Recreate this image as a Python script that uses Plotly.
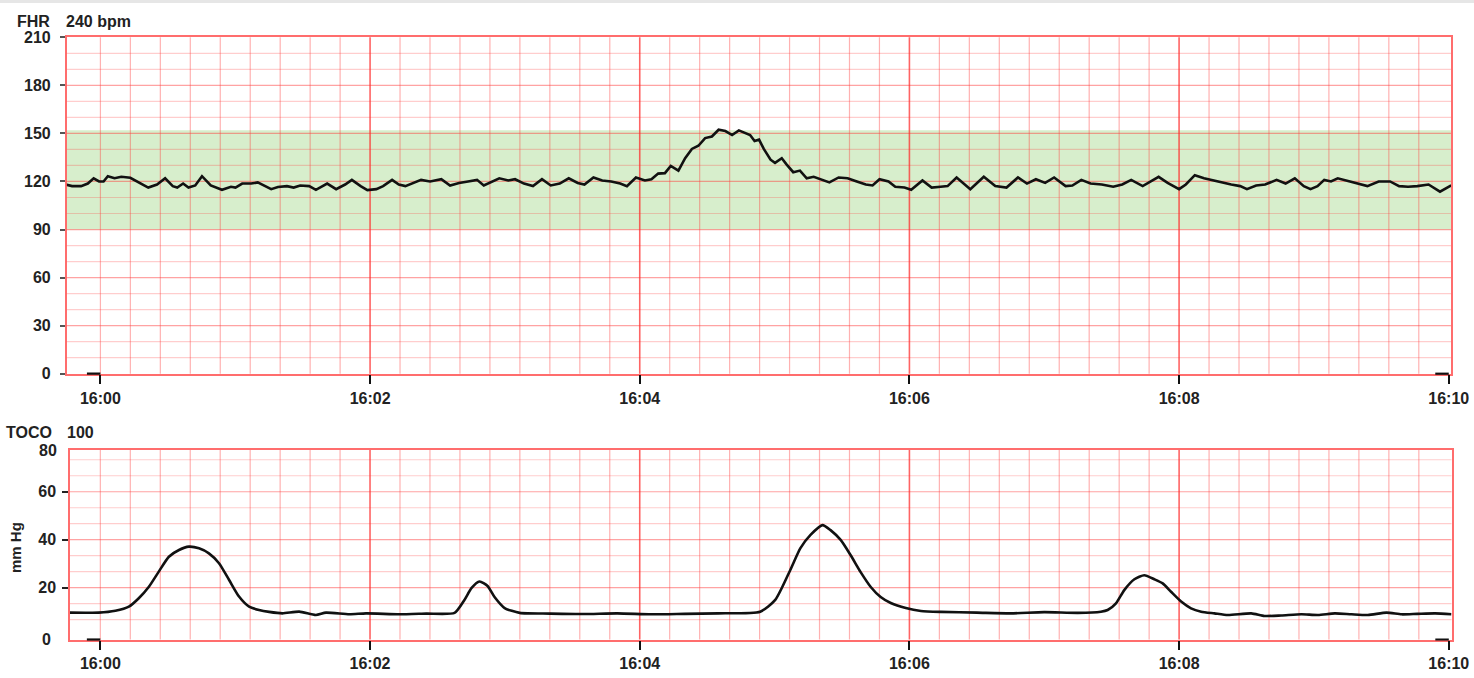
import plotly.graph_objects as go

# ---------------- data (seconds after 16:00) ----------------
fhr_t = [-15.6, -12.6, -8.6, -5.6, -3.0, -0.6, 1.4, 3.3, 6.3, 9.3,
         13.3, 16.3, 19.3, 21.3, 25.2, 28.8, 32.2, 34.2, 36.8, 39.2,
         42.2, 45.2, 49.1, 54.1, 58.1, 60.1, 63.1, 67.1, 70.0, 73.0,
         76.0, 79.0, 83.0, 86.0, 88.9, 92.9, 95.9, 100.9, 104.9, 108.9,
         111.9, 115.8, 118.8, 122.8, 125.8, 129.8, 132.8, 135.7, 138.7, 142.7,
         146.7, 151.7, 155.6, 159.6, 163.6, 167.6, 170.6, 173.6, 177.5, 181.5,
         184.5, 188.5, 192.5, 196.5, 200.4, 204.4, 208.4, 212.4, 215.4, 219.4,
         223.3, 227.3, 231.3, 234.3, 238.3, 242.3, 245.2, 248.2, 251.2, 253.8,
         257.2, 260.2, 263.2, 266.1, 269.1, 272.1, 275.1, 278.1, 281.1, 284.1,
         287.1,
         289.1, 291.1, 293.1, 295.2, 298.2, 300.2, 303.2, 305.3, 308.3, 311.3,
         314.3, 317.4, 321.4, 324.4, 328.5, 332.5, 336.6, 340.6, 343.6, 346.7,
         350.7, 353.7, 357.8, 360.8, 365.8, 369.9, 373.9, 377.0, 381.0, 387.1,
         393.1, 398.2, 403.2, 408.3, 412.3, 416.3, 420.4, 424.4, 429.5, 432.5,
         436.5, 440.6, 445.6, 450.7, 454.7, 458.7, 463.8, 470.9, 474.9, 480.0,
         483.0, 487.0, 491.1, 495.1, 499.1, 503.2, 507.2, 510.2, 514.3, 518.3,
         523.4, 527.4, 531.5, 535.5, 538.5, 541.6, 544.6, 547.6, 550.6, 555.7,
         559.7, 563.8, 568.8, 573.9, 577.9, 581.9, 586.0, 591.0, 596.1, 599.1,
         601.1]
fhr_bpm = [118.1, 117.1, 117.1, 118.7, 122.0, 120.0, 120.0, 123.3, 122.0, 122.9,
           122.3, 120.0, 117.5, 116.2, 118.1, 122.0, 117.1, 116.2, 118.7, 116.2,
           117.5, 123.3, 117.5, 114.8, 116.7, 116.2, 118.7, 118.7, 119.4, 117.1,
           115.2, 116.5, 117.1, 116.2, 117.5, 117.1, 114.8, 118.7, 115.2, 118.1,
           121.0, 117.1, 114.6, 115.2, 117.1, 121.0, 118.1, 117.1, 118.7, 121.0,
           120.0, 121.4, 117.5, 119.1, 120.0, 121.0, 117.5, 119.4, 122.0, 120.6,
           121.4, 118.7, 117.1, 121.4, 117.5, 118.7, 122.0, 119.1, 118.1, 122.5,
           120.6, 120.0, 118.7, 117.1, 122.5, 120.6, 121.4, 124.9, 125.2, 129.7,
           126.8, 134.5, 140.3, 142.3, 147.1, 148.1, 152.3, 151.5, 149.0, 151.9,
           150.0,
           149.0, 145.2, 146.1, 140.3, 133.6, 131.6, 134.5, 130.7, 125.8, 126.8,
           122.0, 122.9, 121.0, 119.4, 122.5, 122.0, 120.0, 118.1, 117.5, 121.4,
           120.0, 116.7, 116.2, 114.8, 120.6, 116.2, 116.7, 117.1, 122.5, 115.2,
           122.9, 117.1, 116.2, 122.5, 118.7, 121.4, 119.1, 122.5, 117.1, 117.5,
           121.0, 118.7, 118.1, 116.7, 118.1, 121.0, 117.1, 122.9, 119.1, 115.2,
           118.1, 123.9, 122.0, 120.6, 119.1, 118.1, 117.1, 115.2, 117.5, 118.1,
           121.0, 118.7, 122.0, 117.1, 115.2, 117.1, 121.0, 120.0, 122.0, 120.0,
           118.7, 117.1, 120.0, 120.0, 117.1, 116.7, 117.1, 118.1, 113.6, 116.2,
           117.5]

toco_t = [-13.5, -0.7, 6.7, 12.7, 17.1, 21.6, 26.0, 30.5, 35.0, 39.4,
          43.9, 48.3, 52.8, 57.3, 61.7, 66.2, 70.6, 75.1, 81.0, 88.5,
          95.9, 100.4, 110.8, 118.2, 133.1, 145.0, 157.6, 162.0, 165.2, 168.7,
          172.3, 175.4, 179.9, 186.6, 200.0, 215.0, 230.0, 245.0, 260.0, 275.0,
          293.6, 300.3, 307.0, 311.5, 316.0, 321.3, 324.9, 329.4, 333.8, 338.3,
          342.8, 347.2, 351.7, 358.4, 365.1, 374.0, 390.0, 405.0, 420.0, 435.0,
          445.2, 448.2, 451.9, 455.6, 460.1, 464.5, 469.0, 472.7, 476.4, 480.9,
          485.3, 489.8, 495.7, 501.7, 512.1, 518.0, 525.4, 534.4, 541.8, 549.3,
          556.7, 564.0, 572.3, 579.0, 586.0, 593.9, 601.2]
toco_mmhg = [9.6, 9.6, 10.4, 12.1, 15.6, 20.4, 26.7, 32.9, 35.7, 37.1,
             36.4, 34.3, 30.2, 23.2, 16.3, 12.1, 10.7, 9.9, 9.3, 10.0,
             8.6, 9.6, 8.9, 9.3, 8.9, 9.2, 9.5, 14.9, 19.9, 22.6,
             20.7, 16.1, 11.5, 9.5, 9.2, 9.0, 9.3, 8.9, 9.1, 9.3,
             10.0, 14.9, 27.4, 36.5, 42.0, 46.1, 44.0, 39.9, 33.6, 26.5,
             20.3, 16.1, 13.6, 11.5, 10.3, 9.9, 9.6, 9.3, 9.8, 9.5,
             10.0, 10.7, 13.5, 19.0, 23.5, 25.2, 23.5, 21.8, 18.3, 14.2,
             11.4, 10.0, 9.3, 8.6, 9.3, 8.2, 8.4, 8.9, 8.6, 9.3,
             8.9, 8.6, 9.6, 8.9, 9.1, 9.3, 8.9]

time_ticks = [0, 120, 240, 360, 480, 600]
time_labels = ["16:00", "16:02", "16:04", "16:06", "16:08", "16:10"]
fhr_ticks = [0, 30, 60, 90, 120, 150, 180, 210]
toco_ticks = [20, 40, 60]
normal_band = (90, 152)

# grid spacing (chart-paper divisions)
X_MINOR_STEP = 120 / 9      # 9 divisions per 2 minutes
FHR_MINOR_STEP = 10
TOCO_MINOR_STEP = 20 / 3

# ---------------- styling ----------------
W, H = 1474, 678
FONT = "Liberation Sans, Arial, Helvetica, sans-serif"
TXT = "#222222"
MAJOR_V = "rgba(255,40,40,0.72)"
MINOR_V = "rgba(255,60,60,0.40)"
MAJOR_H = "rgba(255,50,50,0.45)"
MINOR_H = "rgba(255,60,60,0.26)"
BORDER = "rgba(255,60,60,0.75)"

# pixel layout of the two panels and their axis ranges
FHR_L, FHR_R, FHR_T, FHR_B = 66.7, 1451.0, 37.3, 373.7
TOC_L, TOC_R, TOC_T, TOC_B = 70.0, 1451.5, 450.0, 639.5
FHR_XR, TOC_XR = (-15.0, 601.0), (-13.5, 601.2)
FHR_YR, TOC_YR = (0, 210), (-1.6, 77.4)


def px(xp):
    return xp / W


def py(yp):
    return 1 - yp / H


fig = go.Figure()
fig.add_trace(go.Scatter(x=fhr_t, y=fhr_bpm, mode="lines",
                         line=dict(color="#111111", width=2.6),
                         xaxis="x", yaxis="y", showlegend=False, hoverinfo="skip"))
fig.add_trace(go.Scatter(x=toco_t, y=toco_mmhg, mode="lines",
                         line=dict(color="#111111", width=2.6, shape="spline", smoothing=0.6),
                         xaxis="x2", yaxis="y2", showlegend=False, hoverinfo="skip"))


def xaxis_cfg(domain, rng, anchor):
    return dict(domain=domain, range=list(rng), anchor=anchor,
                tickmode="array", tickvals=time_ticks, ticktext=time_labels,
                ticks="outside", ticklen=9, tickwidth=2.2, tickcolor="#111111",
                tickfont=dict(family=FONT, size=16, color=TXT, weight="bold"),
                showgrid=False, zeroline=False,
                showline=True, linecolor=BORDER, linewidth=1.5, mirror=True)


fig.update_layout(
    width=W, height=H,
    margin=dict(l=0, r=0, t=0, b=0, autoexpand=False),
    paper_bgcolor="white", plot_bgcolor="white",
    xaxis=xaxis_cfg([px(FHR_L), px(FHR_R)], FHR_XR, "y"),
    xaxis2=xaxis_cfg([px(TOC_L), px(TOC_R)], TOC_XR, "y2"),
    yaxis=dict(domain=[py(FHR_B), py(FHR_T)], range=list(FHR_YR), anchor="x",
               tickmode="array", tickvals=fhr_ticks,
               ticks="outside", ticklen=5, tickwidth=1.6, tickcolor="#555555",
               ticklabelstandoff=6,
               tickfont=dict(family=FONT, size=16, color=TXT, weight="bold"),
               showgrid=False, zeroline=False,
               showline=True, linecolor=BORDER, linewidth=1.5, mirror=True),
    yaxis2=dict(domain=[py(TOC_B), py(TOC_T)], range=list(TOC_YR), anchor="x2",
                tickmode="array", tickvals=toco_ticks,
                ticks="outside", ticklen=6, tickwidth=2.2, tickcolor="#222222",
                ticklabelstandoff=3,
                tickfont=dict(family=FONT, size=16, color=TXT, weight="bold"),
                showgrid=False, zeroline=False,
                showline=True, linecolor=BORDER, linewidth=1.5, mirror=True),
)

shapes = []
# normal FHR band
shapes.append(dict(type="rect", xref="x domain", x0=0, x1=1, yref="y",
                   y0=normal_band[0], y1=normal_band[1],
                   fillcolor="rgba(150,210,120,0.38)", line=dict(width=0), layer="below"))


def vline(xa, ya, xv, color, width):
    return dict(type="line", xref=xa, x0=xv, x1=xv, yref=ya + " domain", y0=0, y1=1,
                line=dict(color=color, width=width), layer="below")


def hline(xa, ya, yv, color, width):
    return dict(type="line", xref=xa + " domain", x0=0, x1=1, yref=ya, y0=yv, y1=yv,
                line=dict(color=color, width=width), layer="below")


# horizontal grid: minor + major (at the labelled ticks)
for k in range(1, 21):
    v = k * FHR_MINOR_STEP
    shapes.append(hline("x", "y", v, MAJOR_H if v in fhr_ticks else MINOR_H, 1.2))
for k in range(1, 12):
    v = k * TOCO_MINOR_STEP
    shapes.append(hline("x2", "y2", v, MAJOR_H if k % 3 == 0 else MINOR_H, 1.2))

# vertical grid: minor every 1/9 of 2 minutes, major every 2 minutes
for xa, ya in (("x", "y"), ("x2", "y2")):
    for k in range(0, 45):
        if k % 9 == 0 and k > 0:
            shapes.append(vline(xa, ya, k * X_MINOR_STEP, MAJOR_V, 1.6))
        else:
            shapes.append(vline(xa, ya, k * X_MINOR_STEP, MINOR_V, 1.2))
    # corner marks at the first and last time ticks
    for tt in (time_ticks[0], time_ticks[-1]):
        shapes.append(dict(type="line", xref=xa, x0=tt - 6, x1=tt, yref=ya + " domain",
                           y0=0, y1=0, line=dict(color="#111111", width=2.2), layer="above"))

# faint page border at the top
shapes.append(dict(type="line", xref="paper", x0=0, x1=1, yref="paper", y0=py(1.5), y1=py(1.5),
                   line=dict(color="#e6e6e6", width=3)))
fig.update_layout(shapes=shapes)


def label(text, x, y, anchor="left", size=16, angle=0):
    fig.add_annotation(text=text, xref="paper", yref="paper", x=px(x), y=py(y),
                       xanchor=anchor, yanchor="middle", showarrow=False, textangle=angle,
                       font=dict(family=FONT, size=size, color=TXT, weight="bold"))


label("FHR", 15, 21)
label("240 bpm", 64, 21)
label("TOCO", 4, 433)
label("100", 65, 433)
label("80", 59, 450, anchor="right")
label("0", 53, 639, anchor="right")
label("mm Hg", 15, 548, anchor="center", size=15, angle=-90)

fig.write_html("out.html", config={"displayModeBar": False},
               post_script="document.body.style.margin='0';document.body.style.overflow='hidden';")
